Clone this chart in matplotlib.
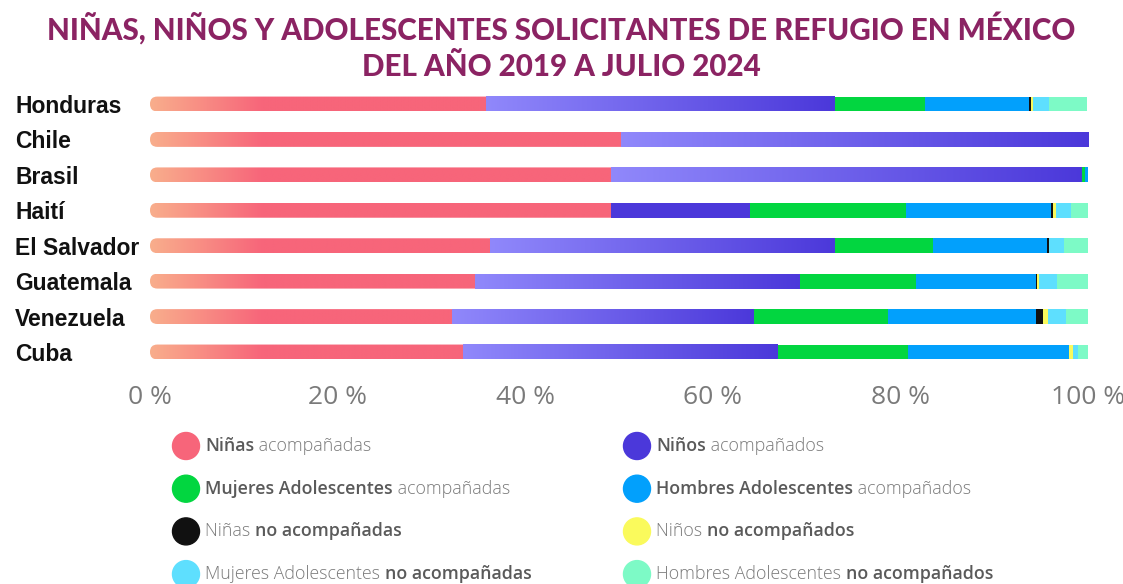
import numpy as np
import matplotlib.pyplot as plt
from matplotlib.patches import FancyBboxPatch, Circle
from matplotlib.colors import to_rgb
from matplotlib.transforms import IdentityTransform

countries = ['Honduras', 'Chile', 'Brasil', 'Haití', 'El Salvador',
             'Guatemala', 'Venezuela', 'Cuba']

# porcentajes (cada fila suma ~100)
ninas_acomp = [35.8, 50.2, 49.1, 49.1, 36.2, 34.7, 32.2, 33.4]
ninos_acomp = [37.2, 49.8, 50.3, 14.9, 36.8, 34.6, 32.2, 33.5]
mujeres_acomp = [9.6, 0.0, 0.3, 16.6, 10.5, 12.4, 14.3, 13.9]
hombres_acomp = [11.1, 0.0, 0.3, 15.5, 12.1, 12.8, 15.8, 17.2]
ninas_no = [0.26, 0.0, 0.0, 0.2, 0.2, 0.05, 0.65, 0.0]
ninos_no = [0.17, 0.0, 0.0, 0.25, 0.05, 0.2, 0.55, 0.35]
mujeres_no = [1.7, 0.0, 0.0, 1.6, 1.6, 1.9, 1.95, 0.6]
hombres_no = [4.1, 0.0, 0.0, 1.9, 2.6, 3.4, 2.4, 1.05]

series = [ninas_acomp, ninos_acomp, mujeres_acomp, hombres_acomp,
          ninas_no, ninos_no, mujeres_no, hombres_no]
colors = ['#F7657A', '#4B38DA', '#02D640', '#02A0FC',
          '#111111', '#FAFA5C', '#5EDFFE', '#7DFAC6']
# (primera parte, segunda parte, primera en negrita)
legend_parts = [
    ('Niñas', ' acompañadas', True),
    ('Niños', ' acompañados', True),
    ('Mujeres Adolescentes', ' acompañadas', True),
    ('Hombres Adolescentes', ' acompañados', True),
    ('Niñas ', 'no acompañadas', False),
    ('Niños ', 'no acompañados', False),
    ('Mujeres Adolescentes ', 'no acompañadas', False),
    ('Hombres Adolescentes ', 'no acompañados', False),
]

W, H = 1123, 584
fig = plt.figure(figsize=(W / 100, H / 100), dpi=100)
ax = fig.add_axes([150 / W, (H - 369.7) / H, 938 / W, 283.4 / H])

bar_h = 0.42
peach = np.array(to_rgb('#F9AE8C'))
pink = np.array(to_rgb(colors[0]))
light_purple = np.array(to_rgb('#9088FB'))
dark_purple = np.array(to_rgb(colors[1]))
asp = (1 / 35.43) / (100 / 938)


def gradient(c1, c2, t):
    t = np.clip(t, 0, 1)[None, :, None]
    return c1[None, None, :] * (1 - t) + c2[None, None, :] * t


for i, country in enumerate(countries):
    left = 0
    for k, vals in enumerate(series):
        v = vals[i]
        if v <= 0:
            continue
        if k == 0:
            w = v + 1.5
            patch = FancyBboxPatch((0, i - bar_h / 2), w, bar_h,
                                   boxstyle='round,pad=0,rounding_size=0.78',
                                   mutation_aspect=asp, fc='none', ec='none')
            ax.add_patch(patch)
            x = np.linspace(0, w, 400)
            im = ax.imshow(gradient(peach, pink, x / 12), extent=[0, w, i + bar_h / 2, i - bar_h / 2],
                           aspect='auto', zorder=2, interpolation='bilinear')
            im.set_clip_path(patch)
        elif k == 1 and v > 20:
            x = np.linspace(0, 1, 400)
            ax.imshow(gradient(light_purple, dark_purple, x),
                      extent=[left, left + v, i + bar_h / 2, i - bar_h / 2],
                      aspect='auto', zorder=3, interpolation='bilinear')
        else:
            ax.barh(i, v, left=left, height=bar_h, color=colors[k], zorder=3, linewidth=0)
        left += v

ax.set_xlim(0, 100)
ax.set_ylim(7.5, -0.5)
for s in ax.spines.values():
    s.set_visible(False)
ax.set_yticks(range(len(countries)))
ax.set_yticklabels(countries, ha='left', fontsize=16.5, fontweight='bold',
                   family='Liberation Sans', color='#111111')
ax.tick_params(axis='y', length=0, pad=97)
ax.set_xticks([0, 20, 40, 60, 80, 100])
ax.set_xticklabels(['0 %', '20 %', '40 %', '60 %', '80 %', '100 %'],
                   fontsize=19, family='Open Sans', color='#7a7a7a')
ax.tick_params(axis='x', length=0, pad=11)

fig.text(0.5, 1 - 40 / H, 'NIÑAS, NIÑOS Y ADOLESCENTES SOLICITANTES DE REFUGIO EN MÉXICO',
         ha='center', va='baseline', fontsize=21.3, fontweight='black', family='Lato', color='#8B2363')
fig.text(0.5, 1 - 76 / H, 'DEL AÑO 2019 A JULIO 2024',
         ha='center', va='baseline', fontsize=21.3, fontweight='black', family='Lato', color='#8B2363')

# leyenda en dos columnas
for j, (a, b, bold_first) in enumerate(legend_parts):
    col, row = j % 2, j // 2
    cx = 186 if col == 0 else 637
    cy = 446 + row * 42.7
    fig.add_artist(Circle((cx, H - cy), 13.5, transform=IdentityTransform(),
                          color=colors[j], clip_on=False))
    t1 = fig.text((cx + 19) / W, 1 - cy / H, a, ha='left', va='center', fontsize=12.8,
                  family='Open Sans', fontweight='semibold' if bold_first else 'light',
                  color='#5a5a5a' if bold_first else '#7a7a7a')
    fig.add_artist(plt.Annotation(b, xy=(1, 0), xycoords=t1, ha='left', va='bottom', fontsize=12.8,
                                  family='Open Sans', fontweight='light' if bold_first else 'semibold',
                                  color='#7a7a7a' if bold_first else '#5a5a5a'))

fig.savefig('out.png', dpi=100)
